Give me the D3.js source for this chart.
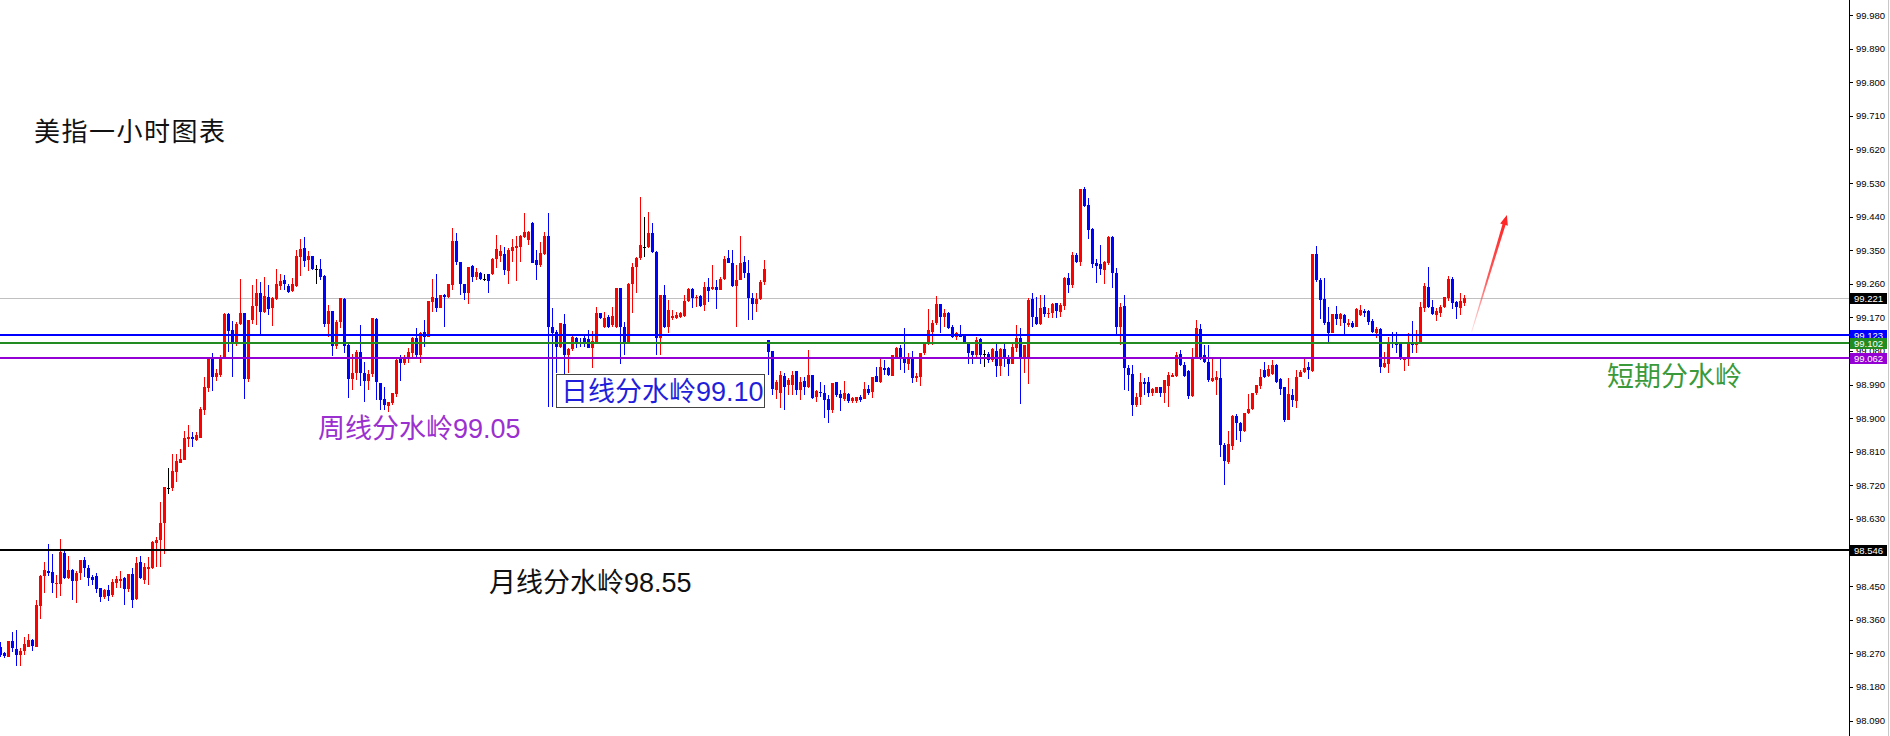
<!DOCTYPE html>
<html lang="zh">
<head>
<meta charset="utf-8">
<title>美指一小时图表</title>
<style>
  html, body { margin: 0; padding: 0; background: #fff; }
  svg { display: block; }
</style>
</head>
<body>
<script src="https://cdn.jsdelivr.net/npm/d3@7"></script>
<script>
// hourly candles (oldest first)
var opens = [98.287,98.271,98.260,98.303,98.282,98.266,98.276,98.287,98.306,98.287,98.397,98.477,98.490,98.488,98.455,98.455,98.539,98.472,98.493,98.463,
  98.485,98.520,98.499,98.474,98.477,98.445,98.421,98.440,98.426,98.458,98.463,98.472,98.442,98.482,98.416,98.515,98.466,98.496,98.499,98.566,
  98.574,98.619,98.713,98.713,98.756,98.780,98.788,98.844,98.850,98.842,98.847,98.922,98.981,99.058,99.010,99.016,99.061,99.179,99.136,99.101,
  99.152,99.181,99.005,99.163,99.200,99.235,99.184,99.224,99.195,99.219,99.254,99.270,99.254,99.240,99.254,99.332,99.356,99.324,99.334,99.299,
  99.299,99.281,99.152,99.187,99.093,99.157,99.219,99.096,99.005,99.021,99.077,99.021,98.999,99.018,99.165,98.994,98.951,98.932,98.940,98.965,
  99.058,99.048,99.064,99.075,99.115,99.069,99.131,99.117,99.211,99.222,99.195,99.230,99.224,99.257,99.374,99.318,99.259,99.235,99.307,99.278,
  99.289,99.273,99.286,99.286,99.326,99.334,99.340,99.294,99.348,99.356,99.358,99.385,99.377,99.423,99.324,99.310,99.340,99.388,99.144,99.131,
  99.091,99.152,99.069,99.085,99.115,99.104,99.115,99.112,99.088,99.104,99.181,99.144,99.171,99.149,99.144,99.248,99.144,99.104,99.259,99.305,
  99.329,99.358,99.358,99.396,99.345,99.115,99.230,99.144,99.168,99.168,99.171,99.173,99.214,99.246,99.222,99.227,99.203,99.251,99.246,99.251,
  99.243,99.273,99.329,99.315,99.254,99.270,99.318,99.289,99.222,99.206,99.219,99.265,99.109,99.080,98.975,98.967,99.013,98.989,98.989,99.026,
  98.975,98.999,98.983,99.016,98.957,98.970,98.967,98.951,98.922,98.997,98.965,98.951,98.965,98.946,98.946,98.957,98.951,98.978,98.970,99.013,
  98.997,99.034,99.034,99.013,99.061,99.088,99.061,99.045,99.058,99.008,99.010,99.075,99.101,99.131,99.155,99.206,99.171,99.181,99.144,99.117,
  99.125,99.120,99.101,99.080,99.069,99.112,99.072,99.072,99.056,99.080,99.040,99.085,99.064,99.045,99.088,99.115,99.058,99.061,99.219,99.171,
  99.152,99.197,99.179,99.181,99.208,99.184,99.200,99.275,99.257,99.337,99.318,99.514,99.471,99.407,99.315,99.313,99.297,99.315,99.385,99.289,
  99.144,99.200,99.034,99.018,98.935,98.957,98.997,98.997,98.967,98.967,98.983,98.967,98.986,99.010,99.013,99.072,99.042,99.026,98.959,99.061,
  99.139,99.069,99.050,98.999,99.002,99.008,98.828,98.783,98.826,98.906,98.887,98.865,98.914,98.924,98.967,98.986,99.029,99.013,99.018,99.042,
  99.005,98.983,98.895,98.962,98.946,99.010,99.024,99.037,99.026,99.340,99.270,99.219,99.157,99.128,99.179,99.165,99.176,99.149,99.155,99.144,
  99.176,99.187,99.187,99.160,99.128,99.139,99.037,99.045,99.101,99.101,99.101,99.056,99.058,99.099,99.096,99.099,99.195,99.251,99.197,99.176,
  99.181,99.197,99.222,99.273,99.211,99.195,99.208];

var highs = [98.301,98.274,98.303,98.327,98.332,98.285,98.313,98.322,98.308,98.413,98.480,98.515,98.563,98.536,98.480,98.576,98.544,98.531,98.496,98.490,
  98.520,98.528,98.507,98.480,98.485,98.445,98.442,98.453,98.469,98.477,98.490,98.474,98.482,98.499,98.528,98.531,98.512,98.528,98.571,98.582,
  98.676,98.716,98.766,98.804,98.804,98.817,98.865,98.881,98.863,98.863,98.930,99.010,99.061,99.075,99.032,99.069,99.181,99.181,99.160,99.157,
  99.273,99.181,99.163,99.257,99.273,99.265,99.278,99.257,99.224,99.299,99.286,99.283,99.259,99.275,99.350,99.380,99.385,99.348,99.334,99.310,
  99.326,99.283,99.203,99.187,99.163,99.222,99.222,99.101,99.072,99.083,99.149,99.050,99.029,99.168,99.168,98.994,98.983,98.943,98.967,99.061,
  99.069,99.069,99.088,99.117,99.141,99.131,99.163,99.214,99.273,99.286,99.230,99.232,99.259,99.409,99.396,99.318,99.259,99.305,99.310,99.302,
  99.291,99.286,99.286,99.329,99.390,99.364,99.358,99.356,99.380,99.388,99.390,99.449,99.401,99.425,99.350,99.372,99.398,99.449,99.195,99.136,
  99.155,99.179,99.088,99.123,99.117,99.115,99.123,99.136,99.133,99.197,99.181,99.184,99.176,99.197,99.248,99.248,99.157,99.262,99.315,99.332,
  99.492,99.439,99.452,99.423,99.348,99.230,99.257,99.217,99.190,99.184,99.184,99.230,99.248,99.248,99.230,99.230,99.265,99.275,99.310,99.270,
  99.278,99.334,99.350,99.350,99.310,99.388,99.334,99.324,99.235,99.235,99.270,99.324,99.109,99.080,99.002,99.026,99.021,99.008,99.026,99.026,
  99.010,99.010,99.083,99.016,98.975,98.997,98.989,98.962,98.994,98.997,98.975,98.999,98.967,98.957,98.957,98.962,98.997,98.989,99.010,99.037,
  99.064,99.056,99.037,99.069,99.091,99.096,99.141,99.075,99.080,99.021,99.075,99.104,99.192,99.163,99.227,99.206,99.192,99.184,99.149,99.131,
  99.149,99.123,99.104,99.080,99.117,99.115,99.083,99.077,99.088,99.101,99.088,99.101,99.069,99.101,99.149,99.141,99.096,99.222,99.235,99.224,
  99.230,99.230,99.195,99.208,99.208,99.208,99.278,99.289,99.345,99.342,99.514,99.519,99.490,99.409,99.326,99.364,99.321,99.388,99.388,99.302,
  99.208,99.230,99.042,99.042,98.967,99.021,99.008,99.010,98.981,98.983,98.983,99.002,99.024,99.021,99.077,99.083,99.050,99.029,99.088,99.163,
  99.152,99.096,99.096,99.064,99.026,99.064,98.833,98.865,98.909,98.911,98.890,98.914,98.965,98.967,98.989,99.032,99.050,99.042,99.056,99.045,
  99.008,98.983,99.008,98.978,99.029,99.029,99.064,99.050,99.340,99.361,99.275,99.275,99.197,99.179,99.200,99.181,99.179,99.165,99.160,99.195,
  99.203,99.192,99.190,99.165,99.144,99.141,99.077,99.117,99.131,99.131,99.104,99.064,99.128,99.160,99.136,99.211,99.262,99.305,99.217,99.195,
  99.203,99.224,99.281,99.278,99.214,99.235,99.230];

var lows = [98.260,98.258,98.260,98.274,98.236,98.236,98.266,98.287,98.276,98.287,98.362,98.432,98.477,98.432,98.418,98.424,98.469,98.469,98.413,98.405,
  98.466,98.474,98.450,98.453,98.432,98.407,98.416,98.410,98.421,98.445,98.445,98.400,98.434,98.391,98.413,98.469,98.455,98.453,98.496,98.501,
  98.501,98.536,98.697,98.705,98.729,98.780,98.788,98.823,98.823,98.839,98.847,98.909,98.970,98.973,98.999,99.010,99.058,99.077,99.010,99.093,
  99.149,98.951,98.997,99.152,99.149,99.125,99.181,99.176,99.147,99.217,99.243,99.243,99.235,99.238,99.251,99.281,99.305,99.294,99.297,99.259,
  99.270,99.144,99.117,99.066,99.085,99.141,99.075,98.954,98.975,99.002,98.986,98.943,98.975,99.010,98.949,98.922,98.922,98.916,98.935,98.957,
  98.999,99.042,99.048,99.064,99.064,99.048,99.091,99.117,99.184,99.184,99.195,99.144,99.222,99.243,99.310,99.230,99.217,99.206,99.265,99.270,
  99.270,99.267,99.235,99.283,99.302,99.318,99.283,99.259,99.318,99.267,99.318,99.382,99.364,99.315,99.270,99.305,99.337,98.930,98.930,99.021,
  99.088,99.010,99.021,99.080,99.088,99.091,99.091,99.088,99.034,99.101,99.165,99.141,99.141,99.144,99.141,99.045,99.069,99.101,99.181,99.235,
  99.324,99.332,99.356,99.342,99.069,99.069,99.141,99.128,99.163,99.165,99.168,99.171,99.211,99.195,99.197,99.197,99.187,99.211,99.243,99.192,
  99.243,99.270,99.315,99.251,99.144,99.270,99.275,99.163,99.163,99.184,99.217,99.257,99.016,98.962,98.951,98.927,98.922,98.962,98.962,98.962,
  98.949,98.962,98.981,98.951,98.943,98.957,98.901,98.887,98.914,98.957,98.919,98.946,98.940,98.940,98.940,98.943,98.951,98.962,98.954,98.999,
  98.994,99.016,99.013,99.013,99.058,99.029,99.021,99.029,98.994,98.997,98.986,99.069,99.096,99.096,99.149,99.128,99.144,99.139,99.115,99.109,
  99.117,99.099,99.045,99.045,99.064,99.045,99.037,99.048,99.050,99.010,99.013,99.037,99.013,99.045,99.077,98.938,99.021,98.991,99.144,99.149,
  99.149,99.171,99.168,99.168,99.168,99.171,99.190,99.235,99.248,99.315,99.307,99.465,99.380,99.302,99.262,99.283,99.259,99.310,99.248,99.123,
  99.096,98.975,98.973,98.906,98.930,98.935,98.962,98.957,98.959,98.967,98.957,98.940,98.930,99.010,99.010,99.040,99.010,98.951,98.957,99.058,
  99.056,99.048,98.997,98.997,98.962,98.796,98.721,98.777,98.815,98.842,98.836,98.863,98.911,98.922,98.962,98.978,99.008,99.010,99.016,98.994,
  98.962,98.890,98.895,98.930,98.927,99.010,99.021,99.005,99.024,99.265,99.165,99.149,99.101,99.128,99.149,99.147,99.123,99.144,99.141,99.144,
  99.173,99.171,99.149,99.128,99.115,99.021,99.034,99.021,99.088,99.075,99.056,99.026,99.040,99.075,99.075,99.099,99.184,99.195,99.176,99.160,
  99.171,99.195,99.214,99.192,99.165,99.176,99.200];

var closes = [98.266,98.263,98.303,98.285,98.266,98.276,98.295,98.306,98.290,98.400,98.477,98.493,98.485,98.458,98.458,98.542,98.472,98.493,98.463,98.485,
  98.520,98.499,98.472,98.466,98.442,98.421,98.440,98.424,98.461,98.469,98.469,98.442,98.482,98.413,98.512,98.472,98.501,98.501,98.568,98.574,
  98.619,98.716,98.713,98.758,98.785,98.791,98.847,98.850,98.844,98.855,98.924,98.983,99.058,99.010,99.021,99.064,99.179,99.133,99.101,99.152,
  99.181,99.005,99.163,99.200,99.235,99.184,99.227,99.192,99.222,99.259,99.267,99.259,99.238,99.259,99.334,99.353,99.321,99.334,99.299,99.299,
  99.278,99.152,99.187,99.093,99.157,99.222,99.093,99.005,99.021,99.077,99.021,98.999,99.018,99.168,98.997,98.949,98.935,98.943,98.967,99.056,
  99.048,99.064,99.077,99.115,99.069,99.128,99.117,99.214,99.224,99.195,99.230,99.224,99.259,99.374,99.318,99.259,99.235,99.305,99.278,99.291,
  99.273,99.273,99.267,99.326,99.353,99.348,99.297,99.350,99.358,99.361,99.388,99.398,99.398,99.315,99.310,99.342,99.388,99.144,99.128,99.091,
  99.155,99.069,99.085,99.117,99.101,99.099,99.099,99.088,99.107,99.181,99.168,99.168,99.144,99.173,99.248,99.144,99.104,99.259,99.305,99.329,
  99.364,99.358,99.396,99.345,99.115,99.230,99.144,99.190,99.173,99.176,99.181,99.214,99.246,99.222,99.224,99.200,99.251,99.240,99.251,99.243,
  99.273,99.326,99.315,99.254,99.270,99.315,99.289,99.222,99.206,99.219,99.265,99.299,99.077,98.978,98.997,99.016,98.983,99.002,99.016,98.975,
  98.997,98.983,99.016,98.954,98.973,98.967,98.949,98.922,98.994,98.962,98.954,98.967,98.946,98.954,98.957,98.949,98.978,98.967,99.010,98.997,
  99.037,99.029,99.016,99.069,99.088,99.064,99.048,99.058,99.008,99.013,99.075,99.101,99.136,99.155,99.206,99.171,99.181,99.141,99.117,99.128,
  99.117,99.101,99.075,99.069,99.109,99.069,99.072,99.056,99.085,99.040,99.085,99.058,99.045,99.091,99.115,99.058,99.096,99.217,99.171,99.152,
  99.195,99.179,99.181,99.206,99.187,99.203,99.275,99.257,99.337,99.318,99.514,99.468,99.404,99.313,99.307,99.299,99.318,99.385,99.289,99.144,
  99.197,99.034,99.016,98.935,98.957,98.997,98.991,98.967,98.978,98.983,98.967,99.002,99.016,99.016,99.069,99.042,99.013,98.959,99.064,99.141,
  99.064,99.050,99.002,99.008,99.010,98.828,98.785,98.831,98.906,98.887,98.865,98.914,98.924,98.967,98.989,99.010,99.010,99.032,99.042,98.997,
  98.978,98.895,98.965,98.949,99.010,99.024,99.034,99.029,99.340,99.270,99.217,99.155,99.128,99.179,99.165,99.179,99.155,99.155,99.144,99.192,
  99.190,99.181,99.157,99.131,99.139,99.037,99.048,99.104,99.099,99.096,99.058,99.061,99.104,99.096,99.104,99.197,99.254,99.197,99.179,99.187,
  99.197,99.224,99.273,99.208,99.197,99.214,99.221];

// price axis ticks
var priceTicks = [99.980, 99.890, 99.800, 99.710, 99.620, 99.530, 99.440, 99.350, 99.260, 99.170, 99.080,
  98.990, 98.900, 98.810, 98.720, 98.630, 98.540, 98.450, 98.360, 98.270, 98.180, 98.090];

// horizontal levels: current price, daily, short-term, weekly, monthly
var levelPrices = [99.221, 99.123, 99.102, 99.062, 98.546];
var levelColors = ['#c0c0c0', '#0000ff', '#228b22', '#9400d3', '#000000'];
var levelWidths = [1, 2, 2, 2, 2];
var tagColors = ['#000000', '#0000ff', '#228b22', '#9400d3', '#000000'];

// forecast arrow (bar index, price)
var arrowFrom = [367.8, 99.132];
var arrowTo = [376.6, 99.444];

var width = 1890, height = 736;
var axisX = 1849;

var x = d3.scaleLinear().domain([0, opens.length - 1]).range([0.5, 0.5 + 4 * (opens.length - 1)]);
var y = d3.scaleLinear().domain([98.09, 99.98]).range([720.5, 15]);

var svg = d3.select('body').append('svg')
    .attr('width', width)
    .attr('height', height)
    .style('font-family', '"Liberation Sans", "Noto Sans CJK SC", sans-serif');

svg.append('rect').attr('width', width).attr('height', height).attr('fill', '#fff');

// current price line sits under the candles
svg.append('line')
    .attr('x1', 0).attr('x2', axisX)
    .attr('y1', y(levelPrices[0])).attr('y2', y(levelPrices[0]))
    .attr('stroke', levelColors[0]).attr('stroke-width', 1)
    .attr('shape-rendering', 'crispEdges');

var candles = d3.range(opens.length).map(function(i) {
  return { i: i, o: opens[i], h: highs[i], l: lows[i], c: closes[i] };
});

function candleColor(d) {
  if (d.c > d.o) return '#ff0000';
  if (d.c < d.o) return '#0000ff';
  return '#000000';
}

var g = svg.append('g').attr('shape-rendering', 'crispEdges');

g.selectAll('.wick')
  .data(candles)
  .enter().append('rect')
    .attr('class', 'wick')
    .attr('x', function(d) { return x(d.i) - 0.5; })
    .attr('width', 1)
    .attr('y', function(d) { return Math.round(y(Math.max(d.h, d.o, d.c))); })
    .attr('height', function(d) {
      return Math.max(1, Math.round(y(Math.min(d.l, d.o, d.c))) - Math.round(y(Math.max(d.h, d.o, d.c))));
    })
    .attr('fill', candleColor);

g.selectAll('.body')
  .data(candles)
  .enter().append('rect')
    .attr('class', 'body')
    .attr('x', function(d) { return x(d.i) - 1.5; })
    .attr('width', 3)
    .attr('y', function(d) { return Math.round(y(Math.max(d.o, d.c))); })
    .attr('height', function(d) {
      return Math.max(1, Math.round(y(Math.min(d.o, d.c))) - Math.round(y(Math.max(d.o, d.c))));
    })
    .attr('fill', candleColor);

// level lines over the candles
svg.selectAll('.level')
  .data(levelPrices.slice(1))
  .enter().append('line')
    .attr('class', 'level')
    .attr('x1', 0).attr('x2', axisX)
    .attr('y1', function(d) { return Math.round(y(d)); })
    .attr('y2', function(d) { return Math.round(y(d)); })
    .attr('stroke', function(d, i) { return levelColors[i + 1]; })
    .attr('stroke-width', function(d, i) { return levelWidths[i + 1]; })
    .attr('shape-rendering', 'crispEdges');

// arrow
var p0 = [x(arrowFrom[0]), y(arrowFrom[1])];
var p1 = [x(arrowTo[0]), y(arrowTo[1])];
var dx = p1[0] - p0[0], dy = p1[1] - p0[1];
var len = Math.sqrt(dx * dx + dy * dy);
var ux = dx / len, uy = dy / len, nx = -uy, ny = ux;
var hb = [p1[0] - ux * 10, p1[1] - uy * 10];

var grad = svg.append('defs').append('linearGradient')
    .attr('id', 'arrowFade')
    .attr('gradientUnits', 'userSpaceOnUse')
    .attr('x1', p0[0]).attr('y1', p0[1]).attr('x2', p1[0]).attr('y2', p1[1]);
grad.append('stop').attr('offset', '0%').attr('stop-color', '#ff4040').attr('stop-opacity', 0.15);
grad.append('stop').attr('offset', '45%').attr('stop-color', '#ff3030').attr('stop-opacity', 0.8);
grad.append('stop').attr('offset', '100%').attr('stop-color', '#ff2020').attr('stop-opacity', 1);

svg.append('path')
    .attr('d', d3.line()([
      [p0[0] + nx * 0.4, p0[1] + ny * 0.4],
      [hb[0] + nx * 1.6, hb[1] + ny * 1.6],
      [hb[0] + nx * 4, hb[1] + ny * 4],
      p1,
      [hb[0] - nx * 4, hb[1] - ny * 4],
      [hb[0] - nx * 1.6, hb[1] - ny * 1.6],
      [p0[0] - nx * 0.4, p0[1] - ny * 0.4]
    ]) + 'Z')
    .attr('fill', 'url(#arrowFade)');

// annotations
svg.append('text')
    .attr('x', 34).attr('y', 141)
    .attr('font-family', '"Noto Sans CJK SC", sans-serif')
    .attr('font-size', 26).attr('letter-spacing', 1.5)
    .attr('fill', '#111')
    .text('美指一小时图表');

svg.append('text')
    .attr('x', 318).attr('y', 438)
    .attr('font-size', 27)
    .attr('fill', '#9b30d0')
    .text('周线分水岭99.05');

svg.append('rect')
    .attr('x', 556.5).attr('y', 374.5).attr('width', 208).attr('height', 33)
    .attr('fill', '#fff').attr('stroke', '#444').attr('stroke-width', 1);

svg.append('text')
    .attr('x', 561).attr('y', 401)
    .attr('font-size', 27)
    .attr('fill', '#1f1fdb')
    .text('日线分水岭99.10');

svg.append('text')
    .attr('x', 489).attr('y', 592)
    .attr('font-size', 27)
    .attr('fill', '#111')
    .text('月线分水岭98.55');

svg.append('text')
    .attr('x', 1607).attr('y', 386)
    .attr('font-family', '"Noto Sans CJK SC", sans-serif')
    .attr('font-size', 27)
    .attr('fill', '#3a9a3a')
    .text('短期分水岭');

// right price axis
svg.append('rect')
    .attr('x', axisX).attr('y', 0).attr('width', width - axisX).attr('height', height)
    .attr('fill', '#fff');

var axis = svg.append('g')
    .attr('transform', 'translate(' + axisX + ',0)')
    .call(d3.axisRight(y)
      .tickValues(priceTicks)
      .tickSize(4)
      .tickSizeOuter(0)
      .tickPadding(3)
      .tickFormat(d3.format('.3f')));

axis.select('.domain').remove();
axis.selectAll('.tick line').attr('stroke', '#000').attr('shape-rendering', 'crispEdges');
axis.selectAll('.tick text')
    .attr('font-family', '"Liberation Sans", sans-serif')
    .attr('font-size', 9.5)
    .attr('fill', '#000');

svg.append('line')
    .attr('x1', axisX + 0.5).attr('x2', axisX + 0.5)
    .attr('y1', 0).attr('y2', height)
    .attr('stroke', '#000').attr('stroke-width', 1);

svg.append('line')
    .attr('x1', width - 1.5).attr('x2', width - 1.5)
    .attr('y1', 0).attr('y2', height)
    .attr('stroke', '#c8c8c8').attr('stroke-width', 1);

// price tags
var tags = svg.append('g').attr('shape-rendering', 'crispEdges');
levelPrices.forEach(function(p, i) {
  var cy = Math.round(y(p));
  tags.append('rect')
      .attr('x', axisX + 1).attr('y', cy - 5)
      .attr('width', 37).attr('height', 11)
      .attr('fill', tagColors[i]);
  tags.append('text')
      .attr('x', axisX + 5).attr('y', cy + 4)
      .attr('font-family', '"Liberation Sans", sans-serif')
      .attr('font-size', 9.5)
      .attr('fill', '#fff')
      .text(d3.format('.3f')(p));
});
</script>
</body>
</html>
